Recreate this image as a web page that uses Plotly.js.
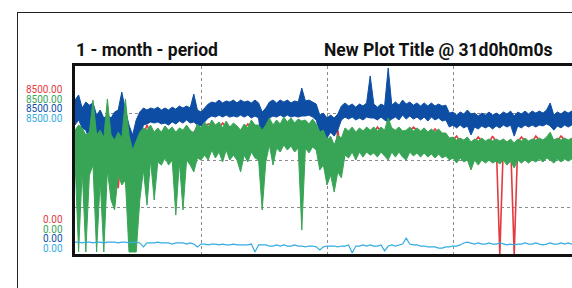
<!DOCTYPE html>
<html>
<head>
<meta charset="utf-8">
<script src="https://cdn.plot.ly/plotly-3.0.1.min.js"></script>
<style>
  html, body { margin: 0; padding: 0; width: 572px; height: 288px; overflow: hidden; background: #fff; }
  #wrap { position: relative; width: 572px; height: 288px; overflow: hidden; }
  #frame { position: absolute; left: 17px; top: 12px; width: 700px; height: 400px;
           border-top: 1.5px solid #222; border-left: 1.5px solid #222; pointer-events: none; z-index: 5; }
  #chart { position: absolute; left: 0; top: 0; }
</style>
</head>
<body>
<div id="wrap">
  <div id="chart"></div>
  <div id="frame"></div>
</div>
<script>
// ---- data: one bin every 0.2 day over a 31-day period ----
// dense channels are given as the per-bin high / low envelope of the trace
const stepDays = 0.2;
const periodDays = 31;
const leftTitle = '1 - month - period';
const mainTitle = 'New Plot Title @ 31d0h0m0s';
const seriesNames = ['Channel A', 'Channel B', 'Channel C', 'Channel D'];
const seriesColors = ['#e43a3f', '#38a556', '#0d4ea4', '#33ace2'];
const axisMax = 8500;
const axisMin = 0;

const redValues = [
  5150,4700,5380,4790,5240,4930,5150,4700,3890,4250,
  4700,3800,2980,4930,5150,4700,4020,4790,5150,5380,
  5830,5470,5150,5510,5060,5600,5150,5470,4930,5380,
  5150,5600,5240,5510,5700,5240,5740,5880,5830,5420,
  5700,5920,5740,5330,5650,5290,5150,5600,5880,5740,
  5330,5470,4930,5970,5920,5150,5790,5330,5970,5420,
  5880,5330,5790,5510,5740,5380,5880,5420,4790,5740,
  4250,4700,4020,5600,4470,5290,5020,5470,4930,5420,
  5110,5510,5150,5420,5740,5560,5150,5060,5600,5110,
  5510,5060,4930,5560,5740,5600,5150,5510,5060,5420,
  5650,5470,5060,5380,4930,5150,5330,5060,4880,5020,
  4470,5060,5290,5110,4840,5020,5330,5060,0,5020,
  4790,5020,0,5060,5290,5110,4840,5060,5330,5150,
  4880,5200,5330,4880,5110,5330,5150,4930,5110,4930,
  5110,5330,5110,4930,5110,4930,5110,4930,5110,4930,
  5110,4930,5110,4930,5110,4930
];

const greenHigh = [
  5600,5830,5700,5380,5510,6960,5380,5600,5240,7010,
  5380,5150,5510,5240,7010,5380,4700,5150,5510,5700,
  5600,5830,5510,5700,5510,5790,5600,5740,5510,5700,
  5600,5830,5600,5470,5880,5700,5970,5740,6060,5830,
  5970,5700,6010,5740,5920,5790,5600,5880,5700,6060,
  5830,5830,5600,5830,6150,5830,6060,5880,6190,5970,
  6150,5920,6100,6010,6060,5880,6100,5880,5510,5600,
  5150,5330,4930,5380,5240,5700,5560,5740,5510,5700,
  5560,5740,5600,5740,5560,5740,5600,6150,5700,5600,
  5740,5560,5600,5740,5560,5700,5560,5700,5510,5650,
  5510,5650,5470,5470,5240,5290,5150,5240,5150,5290,
  5060,5200,5110,5240,5110,5200,5110,5200,5110,5200,
  5060,5200,5020,5200,5110,5240,5110,5200,5150,5240,
  5150,5290,5510,5150,5240,5150,5240,5150,5240,5150,
  5240,5150,5240,5150,5240,5150,5240,5150,5240,5150,
  5240,5150,5240,5150,5240,5150
];

const greenLow = [
  4250,90,3800,90,3570,4020,90,3340,90,3800,
  2440,1990,3570,3120,3340,90,90,90,2440,3800,
  2210,4250,2440,4160,4020,4340,4020,4250,1760,4160,
  1990,4250,4020,3710,4340,4250,4470,4250,4700,4340,
  4610,4160,4700,4250,4470,4250,3710,4470,4160,4610,
  4340,4250,1990,4160,4930,4020,4790,4610,4930,4700,
  4880,4610,4790,1080,4790,4570,4840,4700,3800,4020,
  3120,3570,2800,3710,3440,4470,4340,4610,4250,4610,
  4380,4610,4470,4570,4380,4610,4430,4250,4610,4380,
  4610,4380,4250,4610,4430,4570,4380,4570,4380,4520,
  4340,4520,4340,4430,4250,4340,4110,4340,4160,4250,
  3800,4250,4020,4250,4110,4250,4110,4200,4070,4250,
  4020,4200,3890,4250,4110,4250,4110,4250,4160,4290,
  4160,4340,4250,4110,4290,4160,4290,4200,4290,4200,
  4290,4200,4290,4200,4290,4200,4290,4200,4290,4200,
  4290,4200,4290,4200,4290,4200
];

const blueHigh = [
  6960,7190,6600,6870,6730,6830,6280,6510,6150,6280,
  6150,6420,6510,7320,6510,5830,5380,6060,6420,6600,
  6510,6600,6550,6640,6510,6600,6510,6640,6550,6690,
  6600,6690,6600,7230,6510,6420,6600,6780,6870,6830,
  6960,6830,6920,6870,6960,6830,6960,6870,6920,6830,
  6960,6830,6420,6600,6870,6960,6830,6960,6870,6960,
  6830,6920,6870,7500,6920,6960,6870,6780,6280,6370,
  6150,6280,6150,6330,6690,6830,6690,6780,6640,6780,
  6690,6830,8050,6780,6640,6780,6690,8410,6730,6870,
  6730,6960,6780,6870,6730,6830,6690,6830,6690,6830,
  6690,6780,6690,6730,6370,6420,6280,6420,6330,6510,
  6330,6370,6240,6370,6280,6420,6280,6370,6280,6420,
  6330,6460,6240,6420,6330,6460,6330,6460,6370,6460,
  6370,6510,6830,6280,6420,6330,6460,6370,6460,6370,
  6460,6370,6460,6370,6460,6370,6460,6370,6460,6370,
  6460,6370,6460,6370,6460,6370
];

const blueLow = [
  5830,6060,5700,5600,5150,5380,4930,5150,4790,4930,
  4700,5150,4930,5150,4700,4020,3440,4470,5240,5830,
  5880,5970,5920,5970,5880,5920,5830,5970,5880,6010,
  5920,6060,5920,5970,5830,5790,5970,6150,6240,6190,
  6280,6190,6280,6190,6240,6190,6280,6190,6280,6150,
  6240,6150,4700,5150,6150,6240,6190,6280,6190,6280,
  6190,6240,6190,6240,6240,6280,6190,6060,5510,5600,
  5240,5510,5330,5600,6060,6190,6100,6190,6060,6150,
  6060,6190,6150,6150,6060,6190,6060,5970,6100,6190,
  6060,6280,6100,6240,6100,6190,6060,6190,6010,6190,
  6060,6150,6010,6060,5740,5830,5700,5830,5700,5790,
  5380,5740,5650,5790,5700,5790,5650,5790,5700,5830,
  5740,5830,5330,5790,5700,5830,5740,5830,5740,5830,
  5790,5880,5790,5600,5790,5700,5830,5740,5830,5740,
  5830,5740,5830,5740,5830,5740,5830,5740,5830,5740,
  5830,5740,5830,5740,5830,5740
];

const cyanValues = [
  540,540,500,540,540,500,540,540,500,540,
  540,540,500,540,540,500,540,540,500,320,
  500,500,500,540,500,500,500,450,500,500,
  500,450,500,450,320,450,450,410,450,450,
  410,450,410,410,450,410,410,410,410,450,
  90,410,410,410,360,360,410,360,410,360,
  360,410,360,360,320,360,360,320,180,320,
  360,360,360,320,360,360,410,50,360,360,
  410,360,410,360,360,410,140,360,410,360,
  410,450,720,450,410,410,360,360,320,320,
  320,270,270,320,320,360,360,410,500,540,
  500,450,500,450,450,500,450,450,500,450,
  410,450,410,450,450,500,450,450,500,450,
  410,450,500,450,450,500,450,500,450,450,
  500,450,500,450,500,450,500,450,500,450,
  500,450,500,450,500,450
];

// ---- build ----
const days = redValues.map((_, i) => +(i * stepDays).toFixed(2));

function band(name, color, low, high, edgeW) {
  return [
    { name: name + ' min', x: days, y: low, type: 'scatter', mode: 'lines',
      line: { color: color, width: edgeW } },
    { name: name + ' max', x: days, y: high, type: 'scatter', mode: 'lines',
      line: { color: color, width: edgeW }, fill: 'tonexty', fillcolor: color }
  ];
}

const traces = [
  { name: seriesNames[0], x: days, y: redValues, type: 'scatter', mode: 'lines',
    line: { color: seriesColors[0], width: 1.6 } },
  ...band(seriesNames[2], seriesColors[2], blueLow, blueHigh, 1),
  ...band(seriesNames[1], seriesColors[1], greenLow, greenHigh, 1),
  { name: seriesNames[3], x: days, y: cyanValues, type: 'scatter', mode: 'lines',
    line: { color: seriesColors[3], width: 1.2 } }
];

const plotLeft = 75, plotTop = 66, plotW = 558, plotH = 188;
const px2paperX = px => (px - plotLeft) / plotW;
const py2paperY = py => (plotTop + plotH - py) / plotH;

const labelFont = 'Roboto, "DejaVu Sans", sans-serif';
const annotations = [
  { text: '<b>' + leftTitle + '</b>', xref: 'paper', yref: 'paper', x: px2paperX(74), y: py2paperY(50),
    xanchor: 'left', yanchor: 'middle', showarrow: false,
    font: { family: labelFont, size: 17.5, color: '#111' } },
  { text: '<b>' + mainTitle + '</b>', xref: 'paper', yref: 'paper', x: px2paperX(322), y: py2paperY(50),
    xanchor: 'left', yanchor: 'middle', showarrow: false,
    font: { family: labelFont, size: 17.5, color: '#111' } }
];
const topRows = [89, 99, 108.5, 118];
const bottomRows = [219, 229, 238.5, 248];
seriesColors.forEach((c, k) => {
  annotations.push({ text: axisMax.toFixed(2), xref: 'paper', yref: 'paper', x: px2paperX(64), y: py2paperY(topRows[k]),
    xanchor: 'right', yanchor: 'middle', showarrow: false, borderpad: 0,
    font: { family: labelFont, size: 10, color: c } });
  annotations.push({ text: axisMin.toFixed(2), xref: 'paper', yref: 'paper', x: px2paperX(64), y: py2paperY(bottomRows[k]),
    xanchor: 'right', yanchor: 'middle', showarrow: false, borderpad: 0,
    font: { family: labelFont, size: 10, color: c } });
});

const layout = {
  width: 640, height: 288,
  margin: { l: plotLeft, t: plotTop, r: 640 - plotLeft - plotW, b: 288 - plotTop - plotH, pad: 0 },
  paper_bgcolor: '#fff', plot_bgcolor: '#fff',
  showlegend: false,
  xaxis: { range: [0, periodDays], tick0: 0, dtick: 7, showgrid: true, gridcolor: '#8c8c8c', griddash: 'dot', gridwidth: 1,
           showline: true, linecolor: '#111', linewidth: 3, mirror: true, showticklabels: false, ticks: '', zeroline: false },
  yaxis: { range: [axisMin, axisMax], tick0: 0, dtick: axisMax / 4, showgrid: true, gridcolor: '#8c8c8c', griddash: 'dot', gridwidth: 1,
           showline: true, linecolor: '#111', linewidth: 3, mirror: true, showticklabels: false, ticks: '', zeroline: false },
  annotations: annotations
};

Plotly.newPlot('chart', traces, layout, { staticPlot: true, displayModeBar: false });
</script>
</body>
</html>
